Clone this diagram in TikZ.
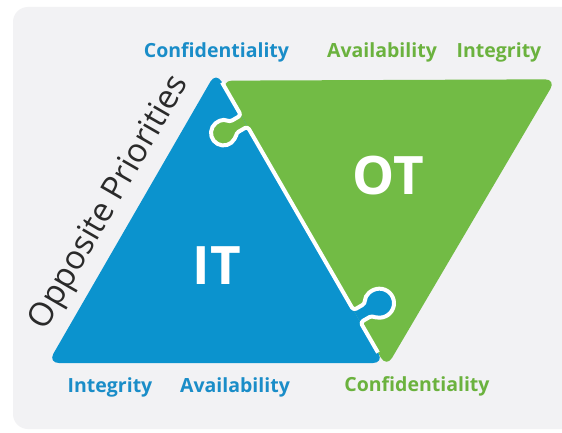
\documentclass[tikz,border=0pt]{standalone}
\usepackage{fontspec}
\setmainfont{Open Sans}
\usetikzlibrary{calc}
\definecolor{panel}{HTML}{F2F2F4}
\definecolor{itblue}{HTML}{0B93CE}
\definecolor{otgreen}{HTML}{72BB45}
\definecolor{bluetext}{HTML}{1A8DC8}
\definecolor{greentext}{HTML}{6BB23E}
\definecolor{darktext}{HTML}{2A2A2A}
\begin{document}
\begin{tikzpicture}[x=1pt,y=1pt,
  cialabel/.style={font=\fontsize{19.5}{19.5}\selectfont\bfseries, inner sep=0pt},
  bigword/.style={font=\fontsize{53}{53}\selectfont\bfseries, text=white, inner sep=0pt},
  piece/.style={rounded corners=11pt},
  seam/.style={white, line width=4pt, line join=round, rounded corners=3pt}]
\useasboundingbox (0,0) rectangle (562,432);
\fill[white] (0,0) rectangle (562,432);
% background panel
\fill[panel, rounded corners=15pt] (13,3) rectangle (590,425);

% triangle corners
\coordinate (T)  at (216,360);   % apex of IT
\coordinate (B)  at (384,69);    % lower right of IT
\coordinate (BL) at (48,69);
\coordinate (G1) at ($(T)!10pt!(B)$);
\coordinate (TR) at (556,352.7);
\coordinate (Bg) at ($(T)!341pt!(B)$);

% puzzle tabs along the shared edge
\coordinate (a1) at ($(T)!50pt!(B)$);
\coordinate (a2) at ($(T)!50pt!(B)!13.32pt!-90:(B)$);
\coordinate (a3) at ($(T)!63pt!(B)!13.32pt!-90:(B)$);
\coordinate (a4) at ($(T)!63pt!(B)$);
\coordinate (b1) at ($(T)!275pt!(B)$);
\coordinate (b2) at ($(T)!275pt!(B)!13.3pt!90:(B)$);
\coordinate (b3) at ($(T)!289pt!(B)!13.3pt!90:(B)$);
\coordinate (b4) at ($(T)!289pt!(B)$);
\coordinate (s0) at ($(T)!12pt!(B)$);
\coordinate (s1) at ($(T)!324pt!(B)$);

% the two pieces as plain rounded triangles
\fill[otgreen, piece] (G1) -- (TR) -- (Bg) -- cycle;
\fill[itblue, piece] (BL) -- (T) -- (B) -- cycle;

% OT tab reaching into IT
\fill[otgreen] (a1) -- (a2)
  arc[start angle=61.52, end angle=358.86, radius=12.5pt]
  -- (a4) -- cycle;
% IT tab reaching into OT
\fill[itblue] (b1) -- (b2)
  arc[start angle=181.33, end angle=-120.95, radius=14.5pt]
  -- (b4) -- cycle;

% white seam between the pieces
\draw[seam] (s0) -- (a1) -- (a2)
  arc[start angle=61.52, end angle=358.86, radius=12.5pt]
  -- (a4) -- (b1) -- (b2)
  arc[start angle=181.33, end angle=-120.95, radius=14.5pt]
  -- (b4) -- (s1);

% piece names
\node[bigword] (it) at (217,166) {IT};
\node[bigword] (ot) at (388,256) {OT};

% priority labels
\node[cialabel, text=bluetext]  (itc) at (216.5,380) {Confidentiality};
\node[cialabel, text=greentext] (ota) at (382,380) {Availability};
\node[cialabel, text=greentext] (oti) at (499,380) {Integrity};
\node[cialabel, text=bluetext]  (iti) at (110,45) {Integrity};
\node[cialabel, text=bluetext]  (ita) at (235,45) {Availability};
\node[cialabel, text=greentext] (otc) at (417,46) {Confidentiality};

\node[rotate=60, text=darktext, inner sep=0pt,
      font=\fontsize{33}{33}\selectfont] (opp) at (110,229) {Opposite Priorities};
\end{tikzpicture}
\end{document}
